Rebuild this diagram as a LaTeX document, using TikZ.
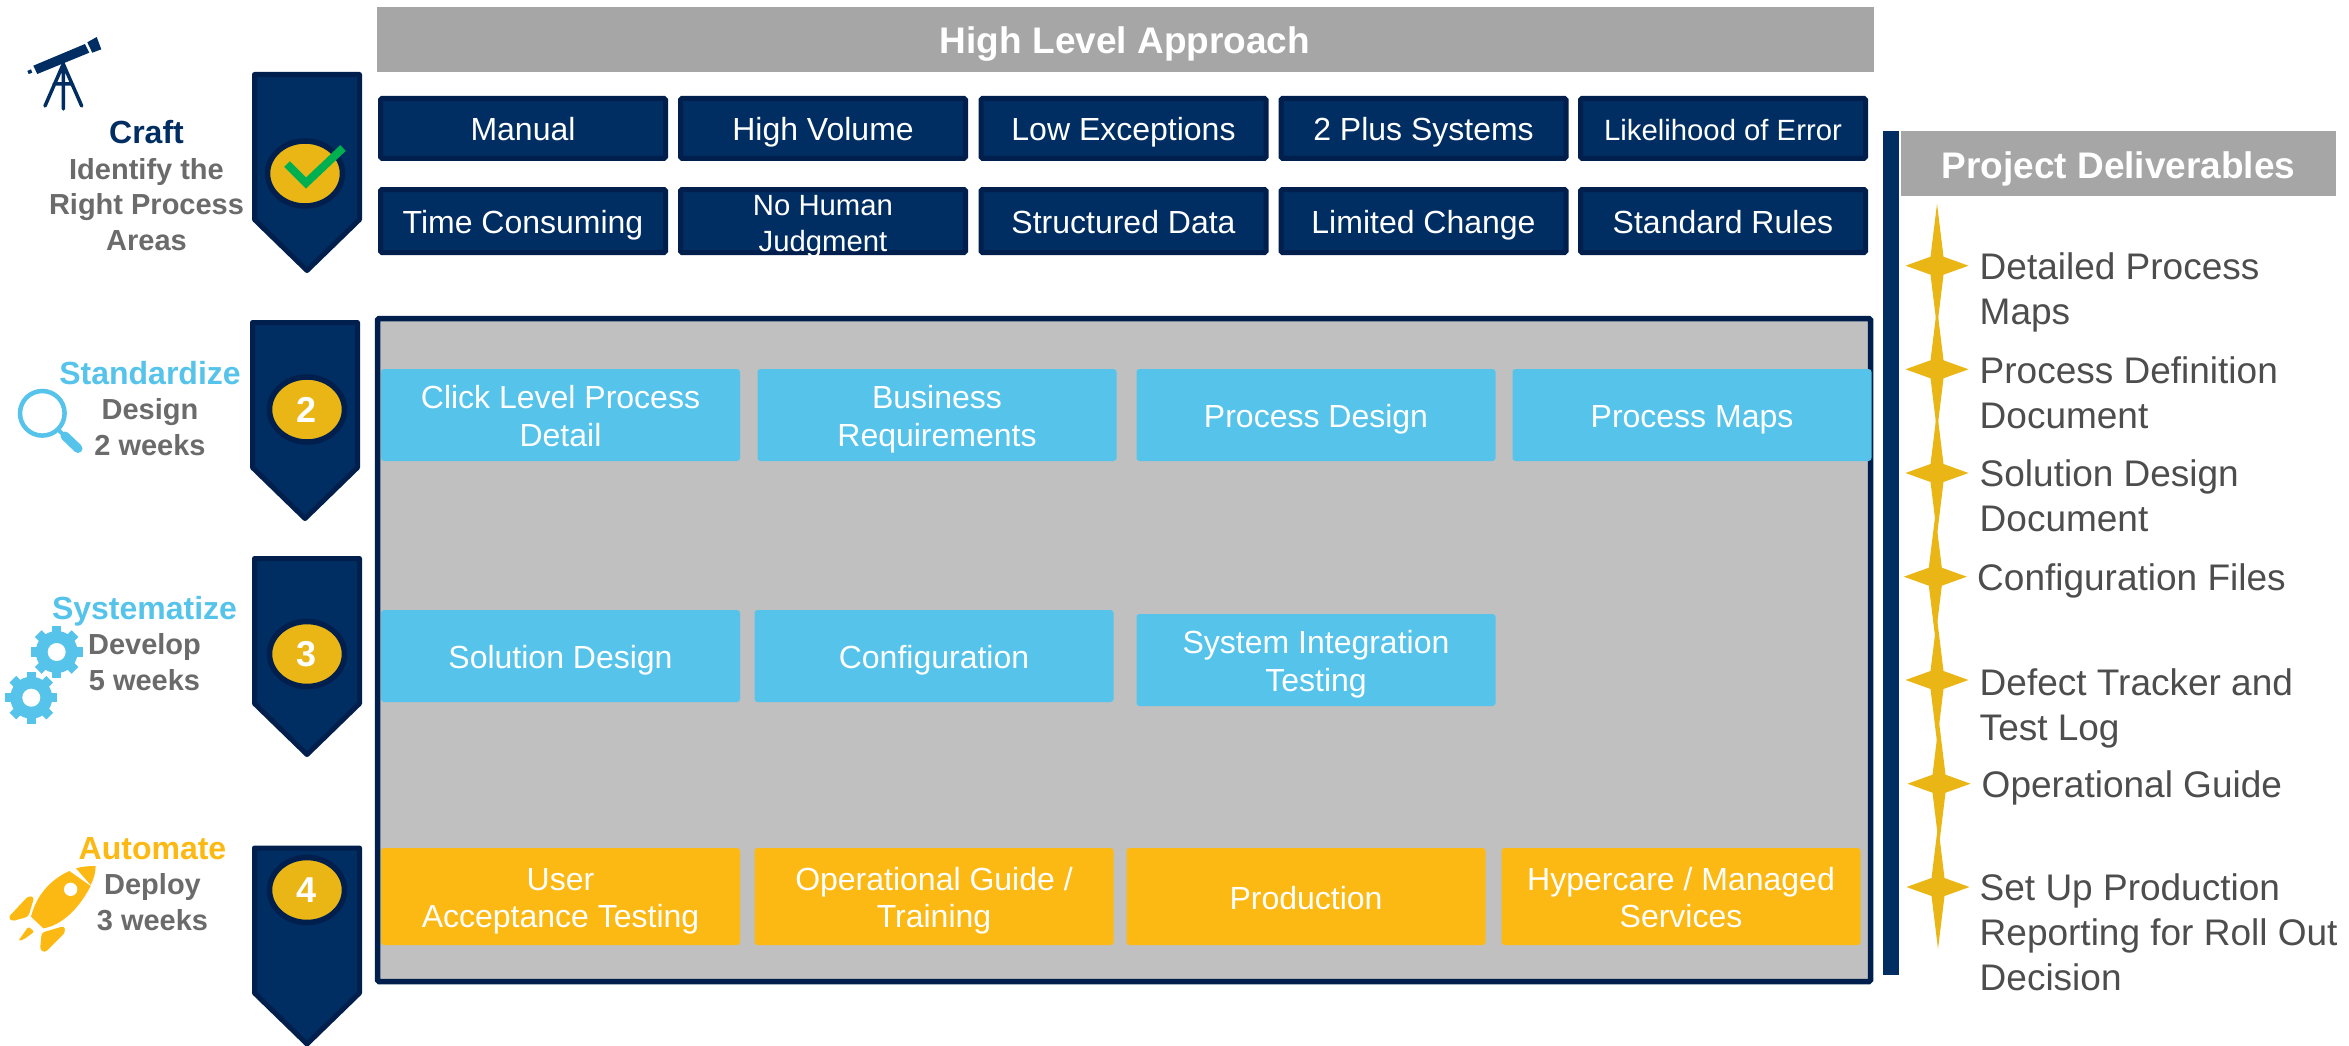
\documentclass[tikz,border=0pt]{standalone}
\usepackage{fontspec}
\setmainfont{Liberation Sans}
\usetikzlibrary{shapes.geometric}
\definecolor{navyfill}{HTML}{002D62}
\definecolor{navyedge}{HTML}{001F4C}
\definecolor{goldfill}{HTML}{E9B616}
\definecolor{skyfill}{HTML}{55C3EA}
\definecolor{amberfill}{HTML}{FDB913}
\definecolor{headgray}{HTML}{A6A6A6}
\definecolor{panelgray}{HTML}{C0C0C0}
\definecolor{stepgray}{HTML}{6B6B6B}
\definecolor{listgray}{HTML}{4D4D4D}
\definecolor{checkgreen}{HTML}{00B050}
\tikzset{
  headbar/.style={fill=headgray,text=white,inner sep=0pt,minimum height=65pt,text height=29pt,text depth=0pt,font=\fontsize{37}{44}\selectfont\bfseries},
  navybox/.style={draw=navyedge,fill=navyfill,line width=5pt,rounded corners=1.5pt,text=white,inner sep=0pt,align=center,minimum width=285pt,text height=25pt,text depth=0pt,font=\fontsize{32}{37.7}\selectfont},
  smallbox/.style={navybox,font=\fontsize{29.3}{36}\selectfont},
  skybox/.style={fill=skyfill,rounded corners=3pt,text=white,inner sep=0pt,align=center,minimum width=359pt,minimum height=92pt,text height=25pt,text depth=0pt,font=\fontsize{32}{37.7}\selectfont},
  amberbox/.style={skybox,fill=amberfill,minimum height=97pt},
  twolines/.style={text height=62.7pt},
  chevron/.style={draw=navyedge,fill=navyfill,line width=5pt,line join=round},
  badge/.style={ellipse,draw=navyedge,fill=goldfill,line width=5.5pt,inner sep=0pt,minimum width=75pt,minimum height=65pt,text=white,font=\fontsize{36}{36}\selectfont\bfseries},
  stepnote/.style={text=stepgray,inner sep=0pt,align=center,text depth=0pt,font=\fontsize{29}{35.5}\selectfont\bfseries},
  listnote/.style={text=listgray,inner sep=0pt,align=left,anchor=base west,text depth=0pt,font=\fontsize{37}{45}\selectfont}
}
\newcommand{\stepname}[2]{{\fontsize{32}{35.5}\selectfont\color{#1}#2}}
\begin{document}
\begin{tikzpicture}[x=1pt,y=-1pt]
\useasboundingbox (0,0) rectangle (2349,1046);
\node [headbar,minimum width=1497pt] (approach) at (1125,39.5) {High Level Approach};
\node [navybox,minimum height=60pt] (manual) at (523,128.4) {Manual};
\node [navybox,minimum height=60pt] (volume) at (823,128.4) {High Volume};
\node [navybox,minimum height=60pt] (exceptions) at (1123.5,128.4) {Low Exceptions};
\node [navybox,minimum height=60pt] (systems) at (1423.5,128.4) {2 Plus Systems};
\node [smallbox,minimum height=60pt] (likelihood) at (1723,128.4) {Likelihood of Error};
\node [navybox,minimum height=63pt] (consuming) at (523,221) {Time Consuming};
\node [smallbox,minimum height=63pt,text height=60pt] (judgment) at (823,221) {No Human\\Judgment};
\node [navybox,minimum height=63pt] (structured) at (1123.5,221) {Structured Data};
\node [navybox,minimum height=63pt] (limited) at (1423.5,221) {Limited Change};
\node [navybox,minimum height=63pt] (rules) at (1723,221) {Standard Rules};
\node [draw=navyedge,fill=panelgray,line width=5.5pt,rounded corners=1.5pt,minimum width=1493pt,minimum height=663pt,inner sep=0pt] (panel) at (1124,650) {};
\node [skybox,twolines] (click) at (560.5,415) {Click Level Process\\Detail};
\node [skybox,twolines] (business) at (937,415) {Business\\Requirements};
\node [skybox] (design) at (1316,415) {Process Design};
\node [skybox] (maps) at (1692,415) {Process Maps};
\node [skybox] (solution) at (560.5,656) {Solution Design};
\node [skybox] (configuration) at (934,656) {Configuration};
\node [skybox,twolines] (integration) at (1316,660) {System Integration\\Testing};
\node [amberbox,twolines] (acceptance) at (560.5,896.5) {User\\Acceptance Testing};
\node [amberbox,twolines] (training) at (934,896.5) {Operational Guide /\\Training};
\node [amberbox] (production) at (1306,896.5) {Production};
\node [amberbox,twolines] (hypercare) at (1681,896.5) {Hypercare / Managed\\Services};
\foreach \x/\y in {254.5/74.5,252.5/322.5,254.5/558.5,254.5/848}
  \draw [chevron] (\x,\y) -- ++(105,0) -- ++(0,145) -- ++(-52.5,51) -- ++(-52.5,-51) -- cycle;
\node [badge] (badgeone) at (305,173.5) {};
\node [badge] (badgetwo) at (307,409.5) {2};
\node [badge] (badgethree) at (307,654) {3};
\node [badge] (badgefour) at (307,890) {4};
\draw [checkgreen,line width=8pt] (287,164) -- (306,183) -- (343,148);
\node [stepnote] (craft) at (146.5,185.5) {\stepname{navyfill}{Craft}\\Identify the\\Right Process\\Areas};
\node [stepnote] (standardize) at (150,408) {\stepname{skyfill}{Standardize}\\Design\\2 weeks};
\node [stepnote] (systematize) at (144.5,643) {\stepname{skyfill}{Systematize}\\Develop\\5 weeks};
\node [stepnote] (automate) at (152.5,883.5) {\stepname{amberfill}{Automate}\\Deploy\\3 weeks};
\fill [navyfill] (33.3,65.7) -- (85,44) -- (89.3,52.7) -- (37.3,74) -- cycle;
\fill [navyfill] (87.3,42.3) -- (96.7,37) -- (101.3,49.3) -- (92.3,52.7) -- cycle;
\fill [navyfill] (27.3,71) -- (31,69.3) -- (32.3,72.7) -- (28.7,74) -- cycle;
\draw [navyfill,line width=3.5pt,line cap=round] (45,106) -- (63.3,64) -- (81.7,106) (63.3,64) -- (63.3,109) (54,84) -- (72.6,84);
\draw [skyfill,line width=4.5pt] (42.3,413.3) circle (22.3);
\draw [skyfill,line width=4pt] (58.3,430) -- (65,436);
\draw [skyfill,line width=9pt,line cap=round] (65,436) -- (78,448.5);
\foreach \x/\y in {56.7/652,31.3/697.7} {
  \fill [skyfill] (\x,\y) circle (21);
  \foreach \a in {0,45,...,315}
    \draw [skyfill,line width=9.5pt] (\x,\y) ++(\a:17) -- ++(\a:9);
  \fill [white] (\x,\y) circle (9);
}
\begin{scope}[shift={(0,760)},x=0.3333pt,y=-0.3333pt]
\fill [amberfill] (93,470) .. controls (110,405) and (150,360) .. (208,333) -- (272,378) .. controls (240,440) and (190,495) .. (130,505) -- cycle;
\fill [amberfill] (228,325) .. controls (245,320) and (265,318) .. (287,318) .. controls (287,338) and (281,358) .. (272,375) -- cycle;
\fill [amberfill,rounded corners=3pt] (25,472) -- (85,408) -- (103,411) -- (85,470) -- (35,484) -- cycle;
\fill [amberfill,rounded corners=3pt] (125,518) -- (193,498) -- (196,517) -- (135,578) -- (120,570) -- cycle;
\fill [amberfill,rounded corners=2pt] (55,543) -- (85,500) -- (103,515) -- (72,538) -- cycle;
\fill [white] (212,388) circle (20);
\end{scope}
\node [fill=navyfill,minimum width=16pt,minimum height=844pt,inner sep=0pt] (bar) at (1891,553) {};
\node [headbar,minimum width=435pt] (deliverables) at (2118.5,163.5) {Project Deliverables};
\foreach \x/\y in {1937/265.7,1937/369.3,1937/473,1935.3/576.7,1937/680,1939/783.7,1938/887}
  \fill [goldfill] (\x,\y) ++(0,-62) -- ++(6.5,53) -- ++(25,9) -- ++(-25,9) -- ++(-6.5,53) -- ++(-6.5,-53) -- ++(-25,-9) -- ++(25,-9) -- cycle;
\node [listnote] (listmaps) at (1979.5,324) {Detailed Process\\Maps};
\node [listnote] (listdefinition) at (1979.5,428.5) {Process Definition\\Document};
\node [listnote] (listsolution) at (1979.5,531.5) {Solution Design\\Document};
\node [listnote] (listfiles) at (1977,590) {Configuration Files};
\node [listnote] (listtracker) at (1979.5,740) {Defect Tracker and\\Test Log};
\node [listnote] (listguide) at (1981.5,797) {Operational Guide};
\node [listnote] (listreporting) at (1979.5,990.5) {Set Up Production\\Reporting for Roll Out\\Decision};
\end{tikzpicture}
\end{document}
